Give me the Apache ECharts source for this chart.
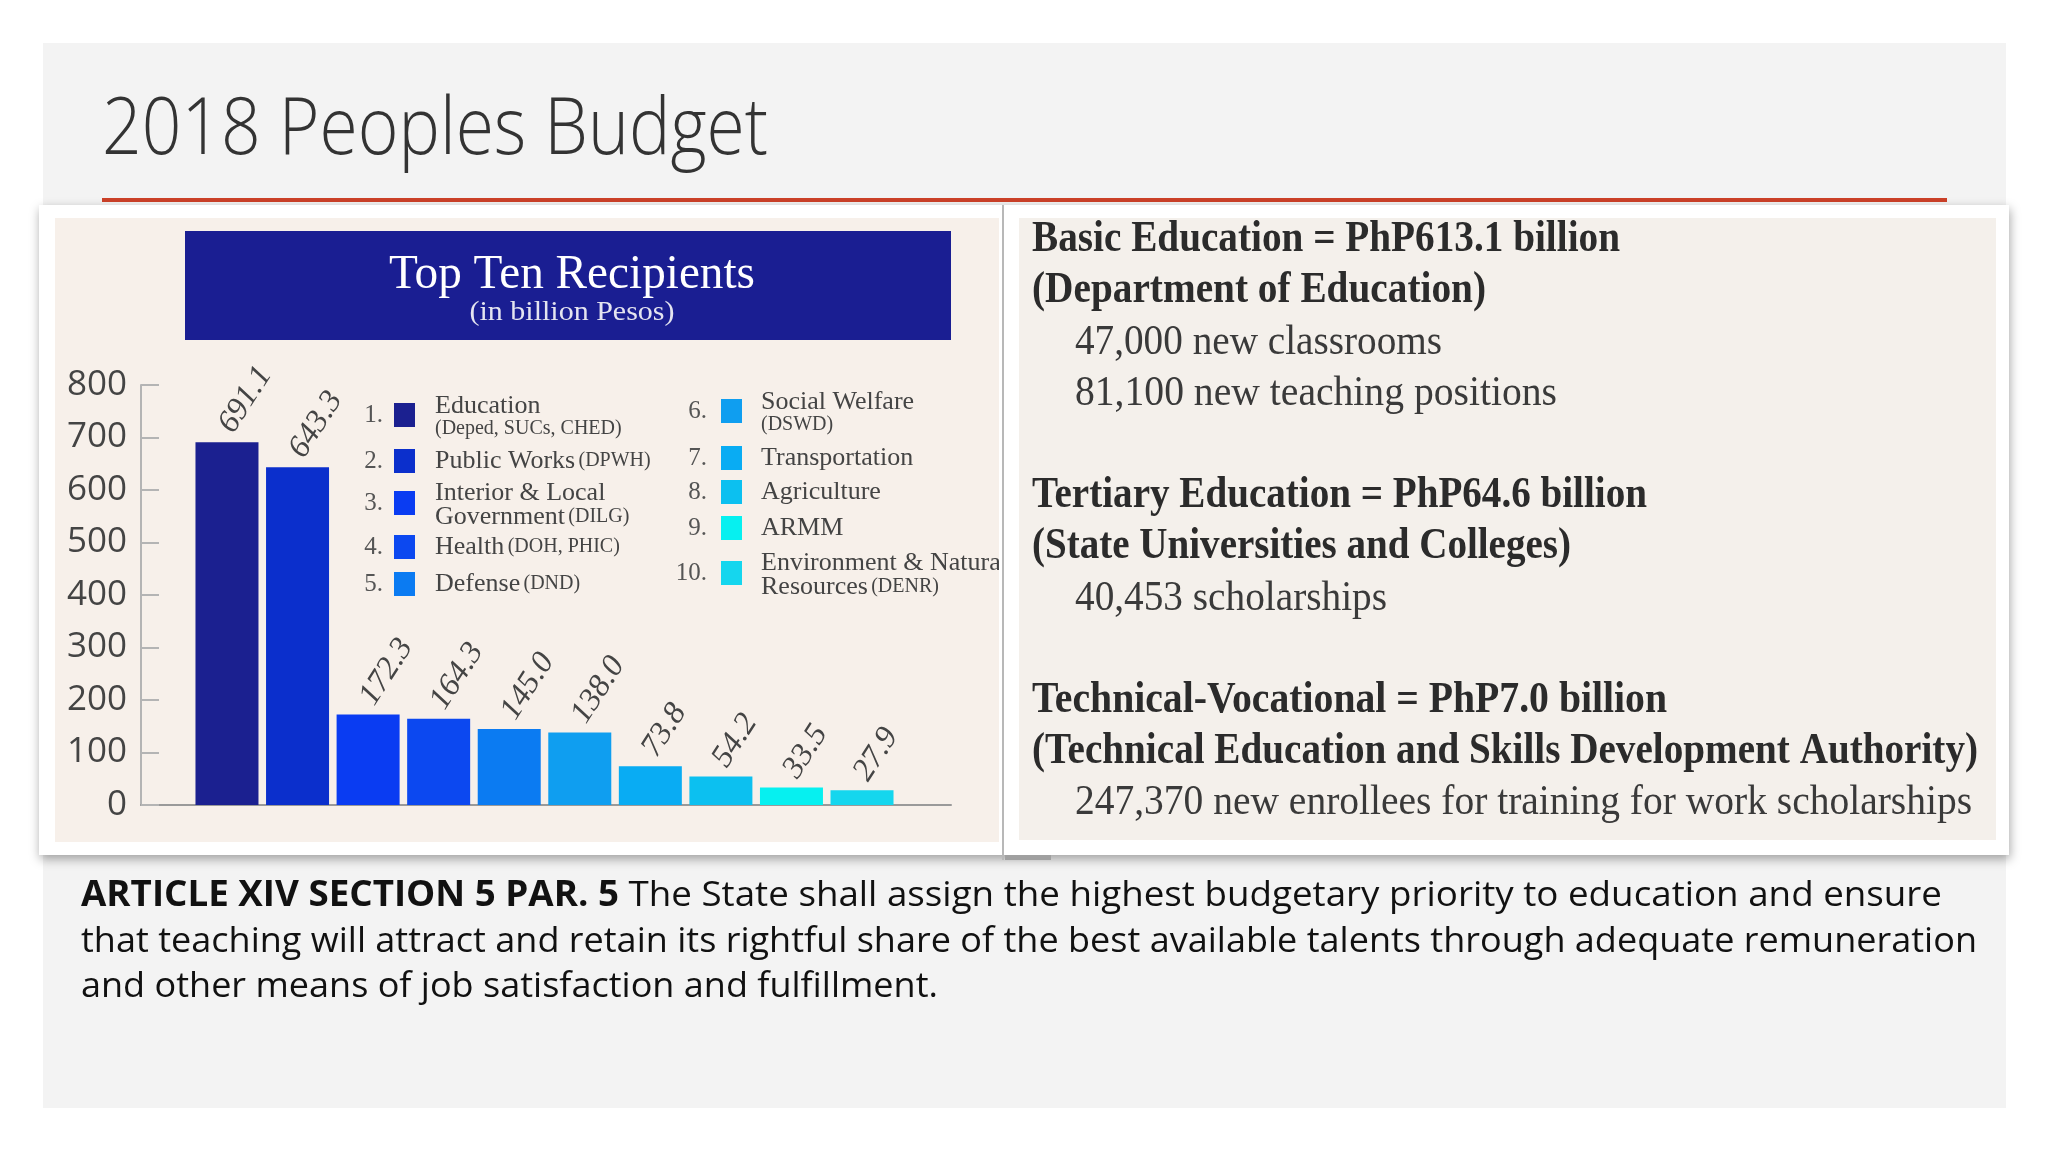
<!DOCTYPE html>
<html>
<head>
<meta charset="utf-8">
<script src="https://cdn.jsdelivr.net/npm/echarts@6/dist/echarts.min.js"></script>
<style>
html,body{margin:0;padding:0;background:#fff;}
#chart{width:2048px;height:1152px;}
</style>
</head>
<body>
<div id="chart"></div>
<script>
// ---------------- data ----------------
const categories = ['Education', 'Public Works', 'Interior & Local Government', 'Health', 'Defense',
  'Social Welfare', 'Transportation', 'Agriculture', 'ARMM', 'Environment & Natural Resources'];
const agencies = ['(Deped, SUCs, CHED)', '(DPWH)', '(DILG)', '(DOH, PHIC)', '(DND)',
  '(DSWD)', '', '', '', '(DENR)'];
const values = [691.1, 643.3, 172.3, 164.3, 145.0, 138.0, 73.8, 54.2, 33.5, 27.9];
const barColors = ['#1b2090', '#0b2fcc', '#0a3cf2', '#0c48f0', '#0b7bf2',
  '#0f9ef0', '#09acf3', '#0cc0f0', '#06f0f0', '#15d6ee'];
const yMin = 0, yMax = 800, yStep = 100;

const pageTitle = '2018 Peoples Budget';
const chartTitle = 'Top Ten Recipients';
const chartSubtitle = '(in billion Pesos)';

const notes = [
  {text: 'Basic Education = PhP613.1 billion', bold: true},
  {text: '(Department of Education)', bold: true},
  {text: '47,000 new classrooms', bold: false},
  {text: '81,100 new teaching positions', bold: false},
  {text: 'Tertiary Education = PhP64.6 billion', bold: true},
  {text: '(State Universities and Colleges)', bold: true},
  {text: '40,453 scholarships', bold: false},
  {text: 'Technical-Vocational = PhP7.0 billion', bold: true},
  {text: '(Technical Education and Skills Development Authority)', bold: true},
  {text: '247,370 new enrollees for training for work scholarships', bold: false}
];
const footerBold = 'ARTICLE XIV SECTION 5 PAR. 5';
const footerLines = [
  'The State shall assign the highest budgetary priority to education and ensure',
  'that teaching will attract and retain its rightful share of the best available talents through adequate remuneration',
  'and other means of job satisfaction and fulfillment.'
];

// ---------------- helpers ----------------
const ctx = document.createElement('canvas').getContext('2d');
function fontStr(f) { return `${f.style || 'normal'} ${f.weight || 'normal'} ${f.size}px "${f.family}"`; }
function measure(text, f) { ctx.font = fontStr(f); return ctx.measureText(text).width; }
function fitText(x, y, text, f, target, z, extra) {
  const sx = target ? target / measure(text, f) : 1;
  return Object.assign({
    type: 'text', x: x, y: y, scaleX: sx, z: z, silent: true,
    style: {text: text, fontFamily: f.family, fontSize: f.size, fontWeight: f.weight || 'normal',
      fontStyle: f.style || 'normal', fill: f.color, align: 'left', verticalAlign: 'middle'}
  }, extra || {});
}

const SERIF = 'Liberation Serif';
const SANS = 'Open Sans';

const g = [];
// slide background
g.push({type: 'rect', z: -30, silent: true, shape: {x: 43, y: 43, width: 1963, height: 1065}, style: {fill: '#f3f3f3'}});
// title
g.push(fitText(102, 131, pageTitle, {family: SANS, weight: 300, size: 80, color: '#333'}, 666, -29));
// red rule
g.push({type: 'rect', z: -29, silent: true, shape: {x: 102, y: 198, width: 1845, height: 4}, style: {fill: '#cc4128'}});
// picture frame
g.push({type: 'rect', z: -28, silent: true, shape: {x: 39, y: 205, width: 1970, height: 650},
  style: {fill: '#ffffff', shadowBlur: 10, shadowColor: 'rgba(0,0,0,0.35)', shadowOffsetY: 4, shadowOffsetX: 1}});
// left panel
g.push({type: 'rect', z: -27, silent: true, shape: {x: 55, y: 218, width: 944, height: 624}, style: {fill: '#f7f0ea'}});
// header box
g.push({type: 'rect', z: -26, silent: true, shape: {x: 185, y: 231, width: 766, height: 109}, style: {fill: '#1a1e92'}});
(function () {
  const f1 = {family: SERIF, size: 48, color: '#ffffff'};
  const w1 = 366;
  g.push(fitText(572 - w1 / 2, 275, chartTitle, f1, w1, -25));
  const f2 = {family: SERIF, size: 28, color: '#e4e4f0'};
  const w2 = 205;
  g.push(fitText(572 - w2 / 2, 313, chartSubtitle, f2, w2, -25));
})();

// legend (built from categories / agencies / colours)
const legendLayout = [
  {col: 0, y: 415, lines: [[0, 'm'], [0, 's']]},
  {col: 0, y: 461, lines: [[0, 'ms']]},
  {col: 0, y: 503, lines: [['Interior & Local', 'm'], ['Government', 'ms']]},
  {col: 0, y: 547, lines: [[0, 'ms']]},
  {col: 0, y: 584, lines: [[0, 'ms']]},
  {col: 1, y: 411, lines: [[0, 'm'], [0, 's']]},
  {col: 1, y: 458, lines: [[0, 'm']]},
  {col: 1, y: 492, lines: [[0, 'm']]},
  {col: 1, y: 528, lines: [[0, 'm']]},
  {col: 1, y: 573, lines: [['Environment & Natural', 'm'], ['Resources', 'ms']]}
];
const colX = [{num: 383, sw: 394, txt: 435}, {num: 707, sw: 721, txt: 761}];
legendLayout.forEach(function (it, i) {
  const c = colX[it.col];
  g.push({type: 'text', z: -24, silent: true, x: c.num, y: it.y,
    style: {text: (i + 1) + '.', fontFamily: SERIF, fontSize: 25, fill: '#555', align: 'right', verticalAlign: 'middle'}});
  g.push({type: 'rect', z: -24, silent: true, shape: {x: c.sw, y: it.y - 12, width: 21, height: 24}, style: {fill: barColors[i]}});
  const parts = it.lines.map(function (ln) {
    const main = ln[0] === 0 ? categories[i] : ln[0];
    if (ln[1] === 'm') return '{m|' + main + '}';
    if (ln[1] === 's') return '{s|' + agencies[i] + '}';
    return '{m|' + main + '} {s|' + agencies[i] + '}';
  });
  g.push({type: 'text', z: -24, silent: true, x: c.txt, y: it.y + (it.lines.length > 1 ? 2 : 0),
    style: {text: parts.join('\n'), align: 'left', verticalAlign: 'middle',
      rich: {
        m: {fontFamily: SERIF, fontSize: 26, fill: '#444', lineHeight: 24},
        s: {fontFamily: SERIF, fontSize: 20, fill: '#444', lineHeight: 22}
      }}});
});
// white gap between panels (also clips legend overflow)
g.push({type: 'rect', z: -20, silent: true, shape: {x: 999, y: 205, width: 20, height: 650}, style: {fill: '#ffffff'}});
// right panel
g.push({type: 'rect', z: -20, silent: true, shape: {x: 1019, y: 218, width: 977, height: 622}, style: {fill: '#f4f0eb'}});
g.push({type: 'line', z: -19, silent: true, shape: {x1: 1003, y1: 205, x2: 1003, y2: 860}, style: {stroke: '#b8b8b8', lineWidth: 2}});
g.push({type: 'rect', z: -19, silent: true, shape: {x: 1005, y: 855, width: 46, height: 5}, style: {fill: '#a0a0a0'}});

// right notes
const noteLayout = [
  {x: 1032, y: 240, w: 588}, {x: 1032, y: 291, w: 454}, {x: 1075, y: 343, w: 367}, {x: 1075, y: 394, w: 482},
  {x: 1032, y: 496, w: 615}, {x: 1032, y: 547, w: 539}, {x: 1075, y: 599, w: 312},
  {x: 1032, y: 701, w: 635}, {x: 1032, y: 752, w: 946}, {x: 1075, y: 803, w: 897}
];
notes.forEach(function (n, i) {
  const L = noteLayout[i];
  const f = n.bold ? {family: SERIF, weight: 'bold', size: 44, color: '#2b2b2b'} : {family: SERIF, size: 42, color: '#3a3a3a'};
  g.push(fitText(L.x, L.y, n.text, f, L.w, -18));
});

// footer
(function () {
  const fb = {family: SANS, weight: 'bold', size: 35};
  const fr = {family: SANS, size: 35};
  const w0 = measure(footerBold, fb) + measure(' ' + footerLines[0], fr);
  g.push({type: 'text', z: -18, silent: true, x: 81, y: 896, scaleX: 1861 / w0,
    style: {text: '{b|' + footerBold + '}{r| ' + footerLines[0] + '}', align: 'left', verticalAlign: 'middle',
      rich: {b: {fontFamily: SANS, fontWeight: 'bold', fontSize: 35, fill: '#111'},
        r: {fontFamily: SANS, fontSize: 35, fill: '#111'}}}});
  g.push(fitText(81, 942, footerLines[1], {family: SANS, size: 35, color: '#111'}, 1896, -18));
  g.push(fitText(81, 987, footerLines[2], {family: SANS, size: 35, color: '#111'}, 857, -18));
})();

// ---------------- chart ----------------
const chart = echarts.init(document.getElementById('chart'), null, {renderer: 'canvas'});
chart.setOption({
  animation: false,
  backgroundColor: '#ffffff',
  graphic: {elements: g},
  grid: [
    {left: 141, top: 385, width: 810, height: 420},
    {left: 191.7, top: 385, width: 705.6, height: 420}
  ],
  xAxis: [
    {gridIndex: 0, type: 'category', data: [''], axisLine: {show: true, lineStyle: {color: '#9a9a9a', width: 2}},
      axisTick: {show: false}, axisLabel: {show: false}, splitLine: {show: false}},
    {gridIndex: 1, type: 'category', data: categories, show: false}
  ],
  yAxis: [
    {gridIndex: 0, type: 'value', min: yMin, max: yMax, interval: yStep, splitLine: {show: false},
      axisLine: {show: true, lineStyle: {color: '#b4b4b4', width: 2}},
      axisTick: {show: true, inside: true, length: 18, lineStyle: {color: '#b4b4b4', width: 2}},
      axisLabel: {fontFamily: SANS, fontSize: 35, color: '#444', margin: 14}},
    {gridIndex: 1, type: 'value', min: yMin, max: yMax, show: false}
  ],
  series: [{
    type: 'bar', xAxisIndex: 1, yAxisIndex: 1, barWidth: 63,
    data: values.map(function (v, i) { return {value: v, itemStyle: {color: barColors[i]}}; }),
    label: {
      show: true, position: 'top', rotate: 57, align: 'left', verticalAlign: 'middle', distance: 14, offset: [-2, 0],
      formatter: function (p) { return p.value.toFixed(1); },
      fontFamily: SERIF, fontStyle: 'italic', fontSize: 32, color: '#444'
    }
  }]
});
</script>
</body>
</html>
